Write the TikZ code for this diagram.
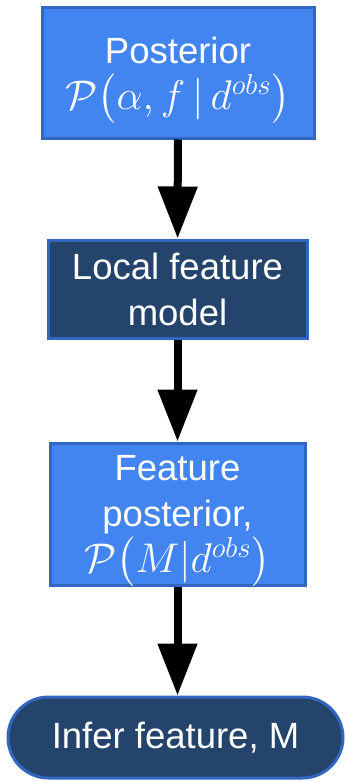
\documentclass[tikz,border=0pt]{standalone}
\usepackage{fontspec}
\setmainfont{Liberation Sans}
\usepackage{amsmath}
\usetikzlibrary{arrows.meta}
\usetikzlibrary{shapes.misc}
\usepackage{xcolor}
\definecolor{boxblue}{HTML}{4285F0}
\definecolor{boxnavy}{HTML}{24446C}
\definecolor{edgeblue}{HTML}{3366C0}

\newcommand{\mathline}[1]{{\fontsize{20.5pt}{23pt}\selectfont$\smash{#1}$}}

\tikzset{
  stepbox/.style={draw=edgeblue, line width=1.5pt, text=white, align=center,
    inner sep=0pt, font=\fontsize{18.25pt}{23pt}\selectfont},
  lightbox/.style={stepbox, fill=boxblue},
  darkbox/.style={stepbox, fill=boxnavy},
  flow/.style={line width=4pt, -{Triangle[length=26pt,width=19pt]}}
}

\begin{document}
\begin{tikzpicture}[x=0.5pt, y=-0.5pt]
\useasboundingbox (0,0) rectangle (345,781);
\node[lightbox, minimum width=136pt, minimum height=65pt] (post) at (178,73)
  {Posterior\\ \mathline{\mathcal{P}\big(\alpha,f\,|\,d^{obs}\big)}};
\node[darkbox, minimum width=129.5pt, minimum height=49pt] (local) at (177.5,289)
  {Local feature\\ model};
\node[lightbox, minimum width=127.5pt, minimum height=71pt] (featpost) at (177.5,514)
  {Feature\\ posterior,\\ \mathline{\mathcal{P}\big(M|d^{obs}\big)}};
\node[darkbox, rounded rectangle, minimum width=167.5pt, minimum height=40.5pt] (infer) at (175.5,737.5)
  {Infer feature, M};
\draw[flow] (post) -- (local);
\draw[flow] (local) -- (featpost);
\draw[flow] (featpost.south) -- (featpost.south |- infer.north);
\end{tikzpicture}
\end{document}
